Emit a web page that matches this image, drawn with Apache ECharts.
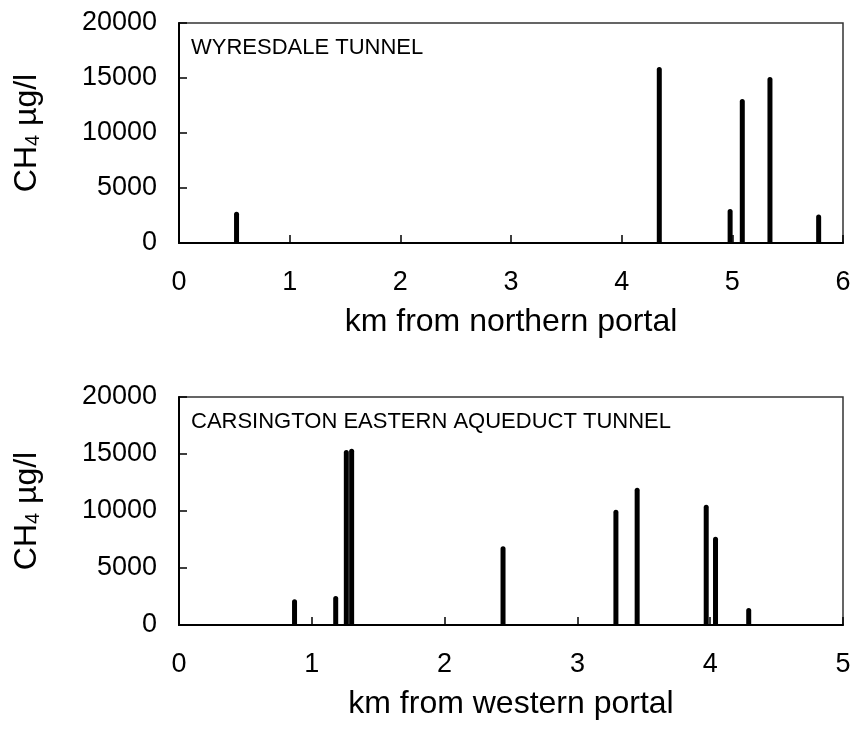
<!DOCTYPE html>
<html>
<head>
<meta charset="utf-8">
<script src="https://cdn.jsdelivr.net/npm/echarts@6/dist/echarts.min.js"></script>
<style>
  html, body { margin: 0; padding: 0; background: #fff; }
  #chart { width: 856px; height: 731px; }
</style>
</head>
<body>
<div id="chart"></div>
<script>
// Methane concentrations (µg/l) along two tunnels
const wyresdaleKm   = [0.52, 4.34, 4.98, 5.09, 5.34, 5.78];
const wyresdaleCH4  = [2850, 16000, 3100, 13100, 15100, 2600];

const carsingtonKm  = [0.87, 1.18, 1.26, 1.30, 2.44, 3.29, 3.45, 3.97, 4.04, 4.29];
const carsingtonCH4 = [2250, 2550, 15350, 15450, 6900, 10100, 12050, 10550, 7750, 1500];

const yTicks = [0, 5000, 10000, 15000, 20000];
const titles = ['WYRESDALE TUNNEL', 'CARSINGTON EASTERN AQUEDUCT TUNNEL'];
const xNames = ['km from northern portal', 'km from western portal'];
const xMax = [6, 5];

const FONT = '"Liberation Sans", Arial, Helvetica, sans-serif';

const pairs = (xs, ys) => xs.map((x, i) => [x, ys[i]]);

const grids = [
  { left: 179, right: 13, top: 23, height: 220 },
  { left: 179, right: 13, top: 397, height: 228 }
];

function xAxis(i) {
  return {
    type: 'value', gridIndex: i, min: 0, max: xMax[i], interval: 1,
    name: xNames[i], nameLocation: 'middle', nameGap: 63,
    nameTextStyle: { fontFamily: FONT, fontSize: 32, color: '#000' },
    axisLine: { show: true, onZero: false, lineStyle: { color: '#000', width: 2 } },
    axisTick: { show: true, inside: true, length: 8, lineStyle: { color: '#000', width: 1.5 } },
    axisLabel: { fontFamily: FONT, fontSize: 27, color: '#000', margin: 26 },
    splitLine: { show: false }
  };
}

function yAxis(i) {
  return {
    type: 'value', gridIndex: i, min: yTicks[0], max: yTicks[yTicks.length - 1],
    interval: yTicks[1] - yTicks[0],
    name: '{n|CH}{s|4}{n| µg/l}', nameLocation: 'middle', nameGap: 136,
    nameTextStyle: {
      fontFamily: FONT, color: '#000',
      rich: {
        n: { fontFamily: FONT, fontSize: 32, color: '#000', lineHeight: 32 },
        s: { fontFamily: FONT, fontSize: 20, color: '#000', lineHeight: 20, verticalAlign: 'bottom' }
      }
    },
    axisLine: { show: true, lineStyle: { color: '#000', width: 2 } },
    axisTick: { show: true, inside: true, length: 8, lineStyle: { color: '#000', width: 1.5 } },
    axisLabel: {
      fontFamily: FONT, fontSize: 27, color: '#000', margin: 22,
      formatter: v => String(v)
    },
    splitLine: { show: false }
  };
}

function barSeries(i, data) {
  return {
    type: 'bar', xAxisIndex: i, yAxisIndex: i,
    data: data, barWidth: 5,
    itemStyle: { color: '#000', borderRadius: [2.5, 2.5, 0, 0] },
    silent: true, animation: false
  };
}

const chart = echarts.init(document.getElementById('chart'), null, { renderer: 'canvas' });
chart.setOption({
  backgroundColor: '#fff',
  animation: false,
  grid: grids.map(g => Object.assign({ show: true, borderColor: '#333', borderWidth: 1.5, backgroundColor: 'transparent' }, g)),
  xAxis: [xAxis(0), xAxis(1)],
  yAxis: [yAxis(0), yAxis(1)],
  title: titles.map((t, i) => ({
    text: t, left: 186, top: grids[i].top + 9,
    textStyle: { fontFamily: FONT, fontSize: 22, fontWeight: 'normal', color: '#000' }
  })),
  series: [
    barSeries(0, pairs(wyresdaleKm, wyresdaleCH4)),
    barSeries(1, pairs(carsingtonKm, carsingtonCH4))
  ]
});
</script>
</body>
</html>
